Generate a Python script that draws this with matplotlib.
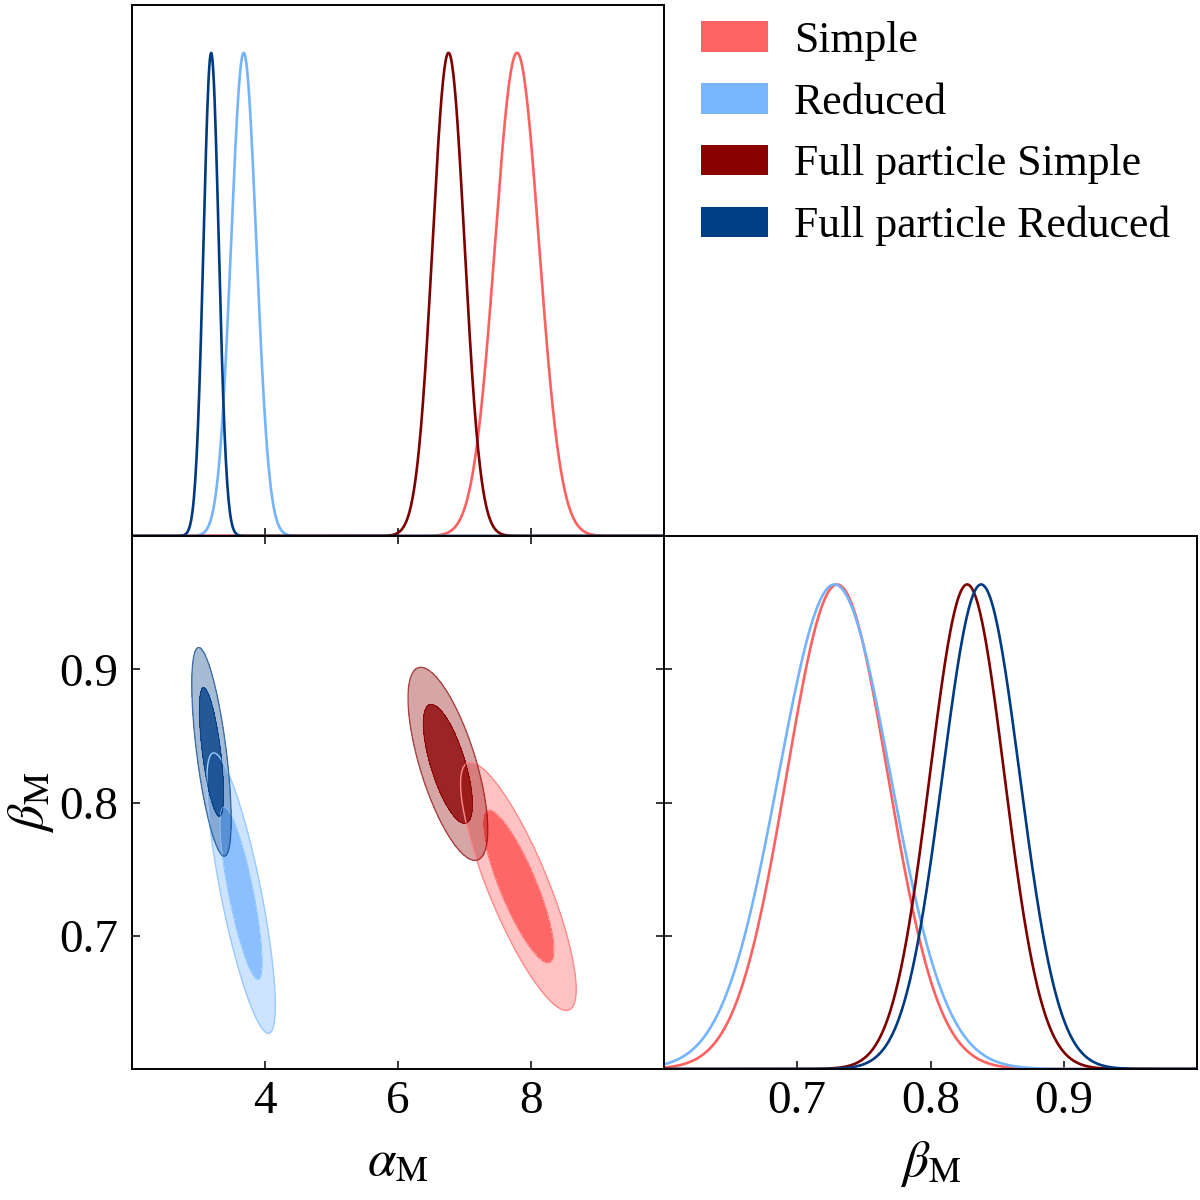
import numpy as np
import matplotlib
matplotlib.use("Agg")
import matplotlib.pyplot as plt
from matplotlib.patches import Patch

# ---------------- data ----------------
names = ["Simple", "Reduced", "Full particle Simple", "Full particle Reduced"]
line_colors = ["#ff6060", "#74b4fe", "#7d0000", "#003a80"]
legend_colors = ["#ff6464", "#78b6fe", "#8b0000", "#003d85"]

# 1D marginal summaries (peak position, width)
alpha_mean_1d = [7.79, 3.68, 6.76, 3.19]
alpha_sigma_1d = [0.33, 0.19, 0.24, 0.115]
beta_mean_1d = [0.730, 0.728, 0.8275, 0.838]
beta_sigma_1d = [0.038, 0.042, 0.028, 0.029]

# 2D contour summaries
alpha_mean_2d = [7.81, 3.64, 6.75, 3.195]
beta_mean_2d = [0.737, 0.732, 0.829, 0.838]
alpha_sigma_2d = [0.355, 0.21, 0.245, 0.121]
beta_sigma_2d = [0.038, 0.043, 0.0296, 0.032]
rho_2d = [-0.83, -0.80, -0.68, -0.65]
contour_mass = [0.68, 0.95]

fill_outer = ["#ffc2c2", "#cce4ff", (0.545, 0.0, 0.0, 0.35), (0.0, 0.239, 0.522, 0.35)]
fill_inner = ["#ff6666", "#8ac0ff", (0.545, 0.0, 0.0, 0.86), (0.0, 0.239, 0.522, 0.86)]
edge_outer = ["#ff8c8c", "#9ccaff", (0.545, 0.0, 0.0, 0.6), (0.0, 0.239, 0.522, 0.6)]

alpha_ticks = [4, 6, 8]
beta_ticks = [0.7, 0.8, 0.9]
alpha_lim = (2.0, 10.0)
beta_lim = (0.6, 1.0)
dens_lim = (0.0, 1.1)

# ---------------- style ----------------
plt.rcParams["font.family"] = ["Liberation Serif", "DejaVu Serif"]
plt.rcParams["mathtext.fontset"] = "stix"
FS = 34
FS_LAB = 37
FS_LEG = 31.5

fig = plt.figure(figsize=(12, 12), dpi=100)
L, W = 132 / 1200, 532 / 1200
ax_top = fig.add_axes([L, 1 - 536 / 1200, W, 531.5 / 1200])
ax_2d = fig.add_axes([L, 1 - 1069 / 1200, W, 533 / 1200])
ax_br = fig.add_axes([1 - 536 / 1200, 1 - 1069 / 1200, 533 / 1200, 533 / 1200])

for ax in (ax_top, ax_2d, ax_br):
    for s in ax.spines.values():
        s.set_linewidth(1.4)

tick_kw = dict(direction="in", length=5.8, width=1.1, labelsize=FS)


def gauss(x, m, s):
    return np.exp(-0.5 * ((x - m) / s) ** 2)


# ---------------- top-left: alpha 1D ----------------
xa = np.linspace(alpha_lim[0], alpha_lim[1], 800)
for i in range(len(names)):
    ax_top.plot(xa, gauss(xa, alpha_mean_1d[i], alpha_sigma_1d[i]),
                color=line_colors[i], lw=1.9)
ax_top.set_xlim(alpha_lim)
ax_top.set_ylim(dens_lim)
ax_top.set_xticks(alpha_ticks)
ax_top.set_yticks([])
ax_top.tick_params(axis="x", bottom=True, top=False, labelbottom=False, **tick_kw)

# ---------------- bottom-left: 2D ----------------
gx = np.linspace(alpha_lim[0], alpha_lim[1], 500)
gy = np.linspace(beta_lim[0], beta_lim[1], 500)
X, Y = np.meshgrid(gx, gy)
q_levels = [-2 * np.log(1 - m) for m in contour_mass]
for i in range(len(names)):
    dx = (X - alpha_mean_2d[i]) / alpha_sigma_2d[i]
    dy = (Y - beta_mean_2d[i]) / beta_sigma_2d[i]
    r = rho_2d[i]
    q = (dx ** 2 - 2 * r * dx * dy + dy ** 2) / (1 - r ** 2)
    ax_2d.contourf(X, Y, q, levels=[0, q_levels[0], q_levels[1]],
                   colors=[fill_inner[i], fill_outer[i]])
    ax_2d.contour(X, Y, q, levels=[q_levels[1]], colors=[edge_outer[i]], linewidths=1.0)
    ax_2d.contour(X, Y, q, levels=[q_levels[0]], colors=[fill_inner[i]], linewidths=0.6)
ax_2d.set_xlim(alpha_lim)
ax_2d.set_ylim(beta_lim)
ax_2d.set_xticks(alpha_ticks)
ax_2d.set_yticks(beta_ticks)
ax_2d.set_xticklabels([f"{t:g}" for t in alpha_ticks])
ax_2d.set_yticklabels([f"{t:.1f}" for t in beta_ticks])
ax_2d.tick_params(axis="x", bottom=True, top=True, pad=8, **tick_kw)
ax_2d.tick_params(axis="y", left=True, right=True, pad=10, **tick_kw)
ax_2d.set_xlabel(r"$\alpha_{\rm M}$", fontsize=FS_LAB, labelpad=12)
ax_2d.set_ylabel(r"$\beta_{\rm M}$", fontsize=FS_LAB, labelpad=2)

# ---------------- bottom-right: beta 1D ----------------
xb = np.linspace(beta_lim[0], beta_lim[1], 800)
for i in range(len(names)):
    ax_br.plot(xb, gauss(xb, beta_mean_1d[i], beta_sigma_1d[i]),
               color=line_colors[i], lw=1.9)
ax_br.set_xlim(beta_lim)
ax_br.set_ylim(dens_lim)
ax_br.set_xticks(beta_ticks)
ax_br.set_xticklabels([f"{t:.1f}" for t in beta_ticks])
ax_br.set_yticks([])
ax_br.tick_params(axis="x", bottom=True, top=False, pad=8, **tick_kw)
ax_br.set_xlabel(r"$\beta_{\rm M}$", fontsize=FS_LAB, labelpad=12)

# shared beta ticks on the left edge of the bottom-right panel
ax_ov = fig.add_axes(ax_br.get_position(), frameon=False)
ax_ov.patch.set_visible(False)
ax_ov.set_ylim(beta_lim)
ax_ov.set_yticks(beta_ticks)
ax_ov.set_xticks([])
ax_ov.tick_params(axis="y", left=True, labelleft=False, **tick_kw)

# ---------------- legend ----------------
handles = [Patch(facecolor=c, edgecolor="none") for c in legend_colors]
fig.legend(handles, names, loc="upper left", bbox_to_anchor=(701 / 1200, 1 - 21 / 1200),
           bbox_transform=fig.transFigure, frameon=False, fontsize=FS_LEG,
           handlelength=1.53, handleheight=0.70, handletextpad=0.59,
           labelspacing=0.495, borderaxespad=0, borderpad=0)

fig.savefig("out.png", dpi=100)
